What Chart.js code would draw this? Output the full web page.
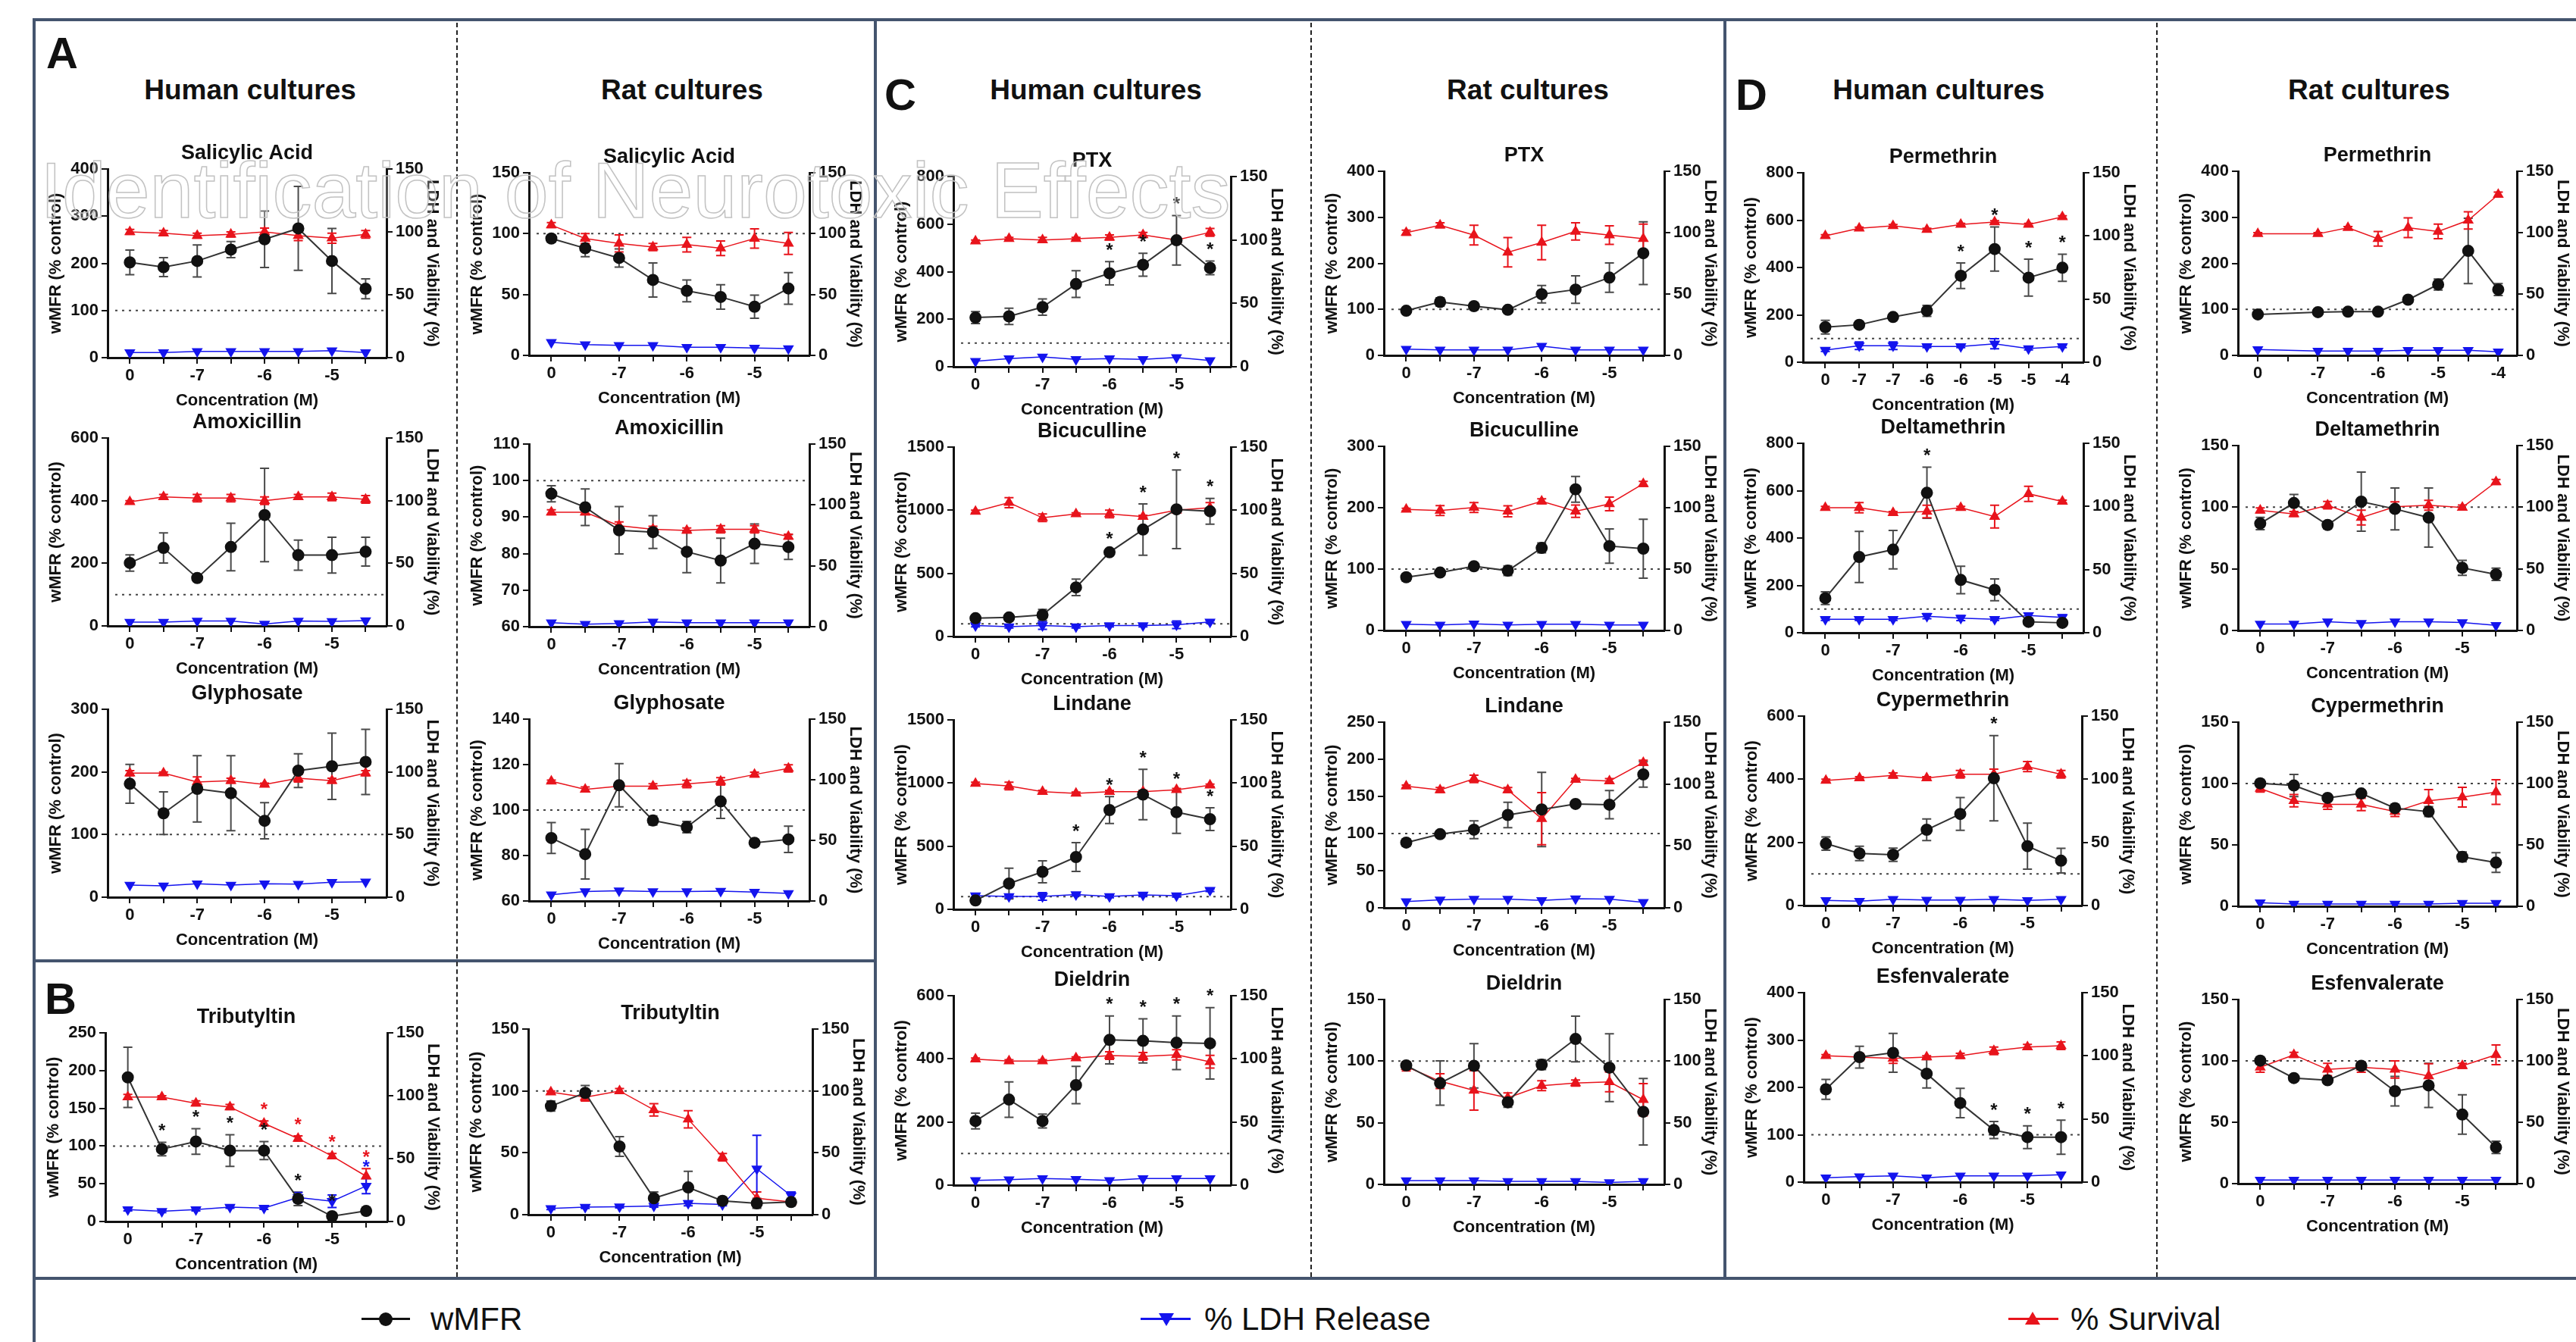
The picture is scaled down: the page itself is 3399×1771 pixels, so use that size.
<!DOCTYPE html>
<html>
<head>
<meta charset="utf-8">
<script src="https://cdn.jsdelivr.net/npm/chart.js@4.4.1/dist/chart.umd.min.js"></script>
<style>
  body { margin: 0; background: #fff; }
  #page { position: relative; width: 3399px; height: 1771px; overflow: hidden; background: #fff;
          font-family: "Liberation Sans", Arial, sans-serif; color: #111; }
  .frame { position: absolute; background: #44546e; }
  .dash { position: absolute; width: 0; border-left: 2px dashed #222; }
  .hdr { position: absolute; font-weight: bold; font-size: 37px; transform: translate(-50%, -50%); white-space: nowrap; }
  .letter { position: absolute; font-weight: bold; font-size: 58px; transform: translate(-50%, -50%); }
  canvas { position: absolute; }
  .wm { position: absolute; left: 53px; top: 199px; font-size: 104px; line-height: 1; white-space: nowrap;
        color: rgba(255,255,255,0.25); -webkit-text-stroke: 1.5px #c2c2c2; z-index: 5; pointer-events: none; }
  .legtxt { position: absolute; top: 1741px; font-size: 42px; transform: translateY(-50%); white-space: nowrap; }
  .legline { position: absolute; height: 3px; }
</style>
</head>
<body>
<div id="page">
  <div class="frame" style="left:43px; top:24px; width:3356px; height:4px"></div>
  <div class="frame" style="left:43px; top:24px; width:4px; height:1747px"></div>
  <div class="frame" style="left:1153px; top:24px; width:4px; height:1665px"></div>
  <div class="frame" style="left:2274px; top:24px; width:4px; height:1665px"></div>
  <div class="frame" style="left:43px; top:1266px; width:1112px; height:4px"></div>
  <div class="frame" style="left:43px; top:1685px; width:3356px; height:4px"></div>

  <div class="dash" style="left:602px; top:30px; height:1655px"></div>
  <div class="dash" style="left:1729px; top:30px; height:1655px"></div>
  <div class="dash" style="left:2845px; top:30px; height:1655px"></div>

  <div class="letter" style="left:82px; top:69px">A</div>
  <div class="letter" style="left:80px; top:1317px">B</div>
  <div class="letter" style="left:1188px; top:124px">C</div>
  <div class="letter" style="left:2311px; top:124px">D</div>
  <div class="hdr" style="left:330px; top:119px">Human cultures</div>
  <div class="hdr" style="left:900px; top:119px">Rat cultures</div>
  <div class="hdr" style="left:1446px; top:119px">Human cultures</div>
  <div class="hdr" style="left:2016px; top:119px">Rat cultures</div>
  <div class="hdr" style="left:2558px; top:119px">Human cultures</div>
  <div class="hdr" style="left:3126px; top:119px">Rat cultures</div>

  <div class="wm">Identification of Neurotoxic Effects</div>

  <div class="legline" style="left:477px; top:1739px; width:64px; background:#111"></div>
  <div style="position:absolute; left:500px; top:1732px; width:18px; height:18px; border-radius:50%; background:#111"></div>
  <div class="legtxt" style="left:568px">wMFR</div>
  <div class="legline" style="left:1505px; top:1739px; width:66px; background:#1414ee"></div>
  <div style="position:absolute; left:1529px; top:1733px; width:0; height:0; border-left:10px solid transparent; border-right:10px solid transparent; border-top:17px solid #1414ee"></div>
  <div class="legtxt" style="left:1589px">% LDH Release</div>
  <div class="legline" style="left:2650px; top:1739px; width:66px; background:#e8141c"></div>
  <div style="position:absolute; left:2672px; top:1731px; width:0; height:0; border-left:10px solid transparent; border-right:10px solid transparent; border-bottom:17px solid #e8141c"></div>
  <div class="legtxt" style="left:2732px">% Survival</div>
</div>

<script>
// concentration tick labels (log M)
const conc8 = ['0', '', '-7', '', '-6', '', '-5', ''];
const concPerHum = ['0', '-7', '-7', '-6', '-6', '-5', '-5', '-4'];
const concPerRat = ['0', '', '-7', '', '-6', '', '-5', '', '-4'];

// ---- A: human ----
const hSalMfr = [202, 192, 205, 229, 251, 274, 205, 146];
const hSalMfrErr = [26, 20, 34, 17, 60, 89, 69, 21];
const hSalSurv = [100, 99, 97, 98, 100, 97, 95, 98];
const hSalSurvErr = [2, 2, 2, 2, 3, 4, 4, 3];
const hSalLdh = [4, 4, 5, 5, 5, 5, 5.5, 4];

const hAmxMfr = [201, 249, 153, 252, 354, 226, 226, 237];
const hAmxMfrErr = [26, 48, 6, 76, 149, 48, 57, 46];
const hAmxSurv = [99, 103, 102, 102, 100, 103, 103, 101];
const hAmxSurvErr = [1, 2, 3, 3, 3, 2, 3, 3];
const hAmxLdh = [3, 3, 4, 4, 1.5, 4, 3.6, 4.2];

const hGlyMfr = [181, 134, 173, 166, 122, 202, 209, 216];
const hGlyMfrErr = [31, 34, 53, 60, 29, 27, 53, 52];
const hGlySurv = [99, 99, 92, 93, 90, 95, 93, 99];
const hGlySurvErr = [2, 1, 4, 2, 1, 3, 2, 2];
const hGlyLdh = [9.7, 9.1, 10.8, 9.7, 10.8, 10.4, 11.9, 12.3];

// ---- A: rat ----
const rSalMfr = [96, 88, 80, 62, 53, 48, 40, 55];
const rSalMfrErr = [3, 7, 7.5, 14, 9, 10, 9.5, 13];
const rSalSurv = [107, 96, 92, 89, 91, 88, 96, 92];
const rSalSurvErr = [2, 4, 7, 3, 6, 6, 8, 9];
const rSalLdh = [10.7, 8.9, 8.2, 8.2, 6.7, 6.7, 6, 5.6];

const rAmxMfr = [96.4, 92.7, 86.4, 85.9, 80.5, 78.1, 82.7, 81.8];
const rAmxMfrErr = [2.2, 5, 6.5, 4.5, 5.7, 6.1, 5.4, 3.4];
const rAmxSurv = [94, 94, 83, 80, 79, 80, 80, 74];
const rAmxSurvErr = [2, 2, 3, 2.5, 2, 3, 3, 2];
const rAmxLdh = [3.2, 2.1, 2.6, 3.9, 3.2, 3.2, 3.2, 3.2];

const rGlyMfr = [87.7, 80.6, 110.9, 95.4, 92.5, 103.8, 85.6, 87.1];
const rGlyMfrErr = [6.8, 10.9, 9.5, 2, 2.5, 7.5, 1.5, 5.8];
const rGlySurv = [98.7, 92, 94.7, 94.7, 96.5, 98.7, 104.3, 109.4];
const rGlySurvErr = [1, 2, 2, 2, 3, 3, 2, 3];
const rGlyLdh = [5.1, 7.8, 8.5, 7.8, 7.8, 8.2, 7.4, 6.2];

// ---- B ----
const hTbtMfr = [191, 96, 106, 94, 94, 30, 7, 14];
const hTbtMfrErr = [40, 9, 17, 21, 12, 9, 5, 5];
const hTbtSurv = [99, 99, 94, 91, 78, 66, 52, 36];
const hTbtSurvErr = [2, 1, 2, 2, 2, 2, 2, 6];
const hTbtLdh = [9.5, 8.1, 9.5, 11.5, 10.7, 19.1, 16.1, 28.2];
const hTbtLdhErr = [1, 1, 1, 1, 1, 4, 5, 6];
const hTbtMfrStars = [1, 2, 3, 4, 5, 6];
const hTbtSurvStars = [4, 5, 6, 7];
const hTbtLdhStars = [7];

const rTbtMfr = [87.8, 98.4, 55.1, 13.3, 22, 11.2, 9.2, 10.2];
const rTbtMfrErr = [4, 6, 8, 5, 13, 3, 4, 3];
const rTbtSurv = [99, 94.9, 100, 84.7, 77.1, 46.5, 13.3, 10.2];
const rTbtSurvErr = [1, 3, 2, 5, 7, 3, 5, 2];
const rTbtLdh = [5.1, 6.1, 6.5, 7.1, 9.2, 8.2, 37.1, 15.3];
const rTbtLdhErr = [1, 1, 1, 1, 2, 1, 27, 3];

// ---- C: human ----
const hPtxMfr = [207, 212, 251, 348, 393, 429, 532, 416];
const hPtxMfrErr = [25, 34, 34, 56, 49, 48, 104, 29];
const hPtxSurv = [99, 101, 100, 101, 102, 104, 100, 106];
const hPtxSurvErr = [1, 1, 2, 1, 2, 2, 2, 3];
const hPtxLdh = [4.4, 6.4, 7.8, 5.8, 6.4, 5.8, 7.3, 4.9];
const hPtxMfrStars = [4, 5, 6, 7];

const hBicMfr = [145, 151, 171, 389, 667, 847, 1007, 992];
const hBicMfrErr = [10, 10, 44, 65, 15, 203, 311, 102];
const hBicSurv = [99, 106, 94, 97, 97, 95, 100, 102];
const hBicSurvErr = [1, 4, 3, 1, 3, 1, 2, 4];
const hBicLdh = [8.7, 7.8, 8.7, 7.8, 8.7, 8.7, 9.3, 11.6];
const hBicLdhErr = [1, 1, 3, 1, 1, 1, 3, 1];
const hBicMfrStars = [4, 5, 6, 7];

const hLinMfr = [70, 204, 297, 414, 786, 909, 769, 714];
const hLinMfrErr = [10, 121, 87, 114, 106, 200, 168, 90];
const hLinSurv = [99.6, 97.6, 93.2, 91.8, 93.2, 93.2, 94.7, 98.2];
const hLinSurvErr = [1, 3, 1, 1, 1, 1, 1, 1];
const hLinLdh = [10.8, 10.2, 10.2, 11.7, 10.2, 11.4, 10.8, 15.1];
const hLinLdhErr = [1, 1, 3, 1, 1, 1, 1, 1];
const hLinMfrStars = [3, 4, 5, 6, 7];

const hDieMfr = [203, 271, 203, 317, 460, 457, 451, 449];
const hDieMfrErr = [25, 56, 22, 59, 76, 70, 85, 113];
const hDieSurv = [99.7, 98.3, 98.3, 100.6, 102.6, 102, 103.2, 97.7];
const hDieSurvErr = [1, 1, 1, 1, 3, 3, 4, 5];
const hDieLdh = [3.8, 4.4, 5.2, 4.7, 3.8, 5.2, 5.2, 5.2];
const hDieMfrStars = [4, 5, 6, 7];

// ---- C: rat ----
const rPtxMfr = [97, 116, 107, 99, 133, 143, 169, 222];
const rPtxMfrErr = [3, 9, 8, 3, 19, 30, 32, 68];
const rPtxSurv = [100, 106, 98, 84, 92, 101, 98, 95];
const rPtxSurvErr = [2, 2, 8, 12, 14, 7, 7.5, 12];
const rPtxLdh = [5.1, 4.5, 4.5, 4.5, 7.5, 4.5, 4.5, 4.5];

const rBicMfr = [86.7, 94.4, 104.6, 97.4, 134.5, 230, 137.5, 133.3];
const rBicMfrErr = [6, 3, 3, 8, 8, 21, 28, 48];
const rBicSurv = [98.6, 97.7, 100.1, 97.1, 105.2, 97.1, 103.1, 119.5];
const rBicSurvErr = [1, 4, 4, 4.5, 2, 5, 5.5, 2];
const rBicLdh = [5.1, 4.5, 5.4, 4.5, 5.1, 5.1, 4.5, 4.5];

const rLinMfr = [87.8, 99.2, 105.2, 125, 132.4, 139.9, 138.9, 179.6];
const rLinMfrErr = [5, 4, 12, 17, 50, 3, 19, 17];
const rLinSurv = [98.2, 95.2, 104.2, 95.2, 72, 103.6, 102.4, 117.3];
const rLinSurvErr = [1, 2, 3, 2, 21, 1, 2, 2];
const rLinLdh = [5.1, 6.5, 7.1, 7.1, 6, 7.4, 7.1, 4.5];

const rDieMfr = [96.5, 82.2, 96.2, 66.6, 97.1, 118, 94.7, 58.9];
const rDieMfrErr = [3, 18, 18, 4, 4, 18.5, 27.5, 27];
const rDieSurv = [95.6, 83.7, 76.2, 70.2, 80.1, 82.2, 83.1, 68.7];
const rDieSurvErr = [3.5, 6, 16, 4, 4, 2.5, 8, 13];
const rDieLdh = [3, 3, 3, 2.4, 2.4, 2.4, 1.5, 2.4];

// ---- D: human ----
const hPerMfr = [148, 158, 191, 217, 365, 478, 357, 399];
const hPerMfrErr = [29, 14, 8, 23, 54, 93, 78, 57];
const hPerSurv = [100, 106, 108, 105, 109, 111, 109, 115];
const hPerSurvErr = [1, 1, 1, 1, 1, 1, 1, 1];
const hPerLdh = [9.6, 13.1, 13.1, 12.5, 12.5, 14.6, 10.8, 12.5];
const hPerLdhErr = [1, 3, 3, 1, 1, 4, 1, 1];
const hPerMfrStars = [4, 5, 6, 7];

const hDelMfr = [146, 320, 351, 591, 223, 181, 46, 42];
const hDelMfrErr = [27, 108, 81, 108, 58, 46, 8, 5];
const hDelSurv = [99, 99, 95, 96, 99, 92, 110, 104];
const hDelSurvErr = [1, 4, 1, 5, 1, 9, 6, 1];
const hDelLdh = [10.7, 10.7, 10.7, 13.1, 11.6, 10.7, 13.6, 12.2];
const hDelLdhErr = [1, 1, 1, 2, 2, 1, 2, 2];
const hDelMfrStars = [3];

const hCypMfr = [196, 165, 161, 240, 290, 403, 188, 142];
const hCypMfrErr = [21, 23, 21, 34, 52, 135, 73, 39];
const hCypSurv = [99, 101, 103, 101, 104, 104, 110, 104];
const hCypSurvErr = [1, 1, 2, 1, 3, 4, 4, 3];
const hCypLdh = [4.1, 3.5, 4.9, 4.4, 4.4, 4.9, 4.1, 4.9];
const hCypMfrStars = [5];

const hEsfMfr = [196, 264, 273, 229, 167, 110, 95, 95];
const hEsfMfrErr = [21, 23, 41, 30, 31, 18, 24, 36];
const hEsfSurv = [100, 99, 98, 99, 100, 104, 107, 108];
const hEsfSurvErr = [1, 3, 4, 1, 2, 3, 2, 3];
const hEsfLdh = [3.5, 4.4, 5, 3.5, 5, 5, 5, 5.8];
const hEsfMfrStars = [5, 6, 7];

// ---- D: rat ----
const rPerMfr = [89, null, 94, 95, 95, 121, 154, 227, 143];
const rPerMfrErr = [2, null, 2, 2, 2, 3, 12, 71, 13];
const rPerSurv = [99, null, 99, 104, 95, 104, 101, 110, 131];
const rPerSurvErr = [1, null, 1, 1, 6, 8, 6, 7, 2];
const rPerLdh = [4.8, null, 3.6, 3.6, 3.6, 4.2, 4.2, 4.2, 3];

const rDelMfr = [86.8, 103.4, 85.6, 104.5, 98.6, 91.6, 50.8, 45.5];
const rDelMfrErr = [5, 7, 3, 24, 17, 24, 6, 5];
const rDelSurv = [97.5, 94.5, 101.6, 91.6, 100.4, 101.6, 99.8, 120.5];
const rDelSurvErr = [2, 2, 3, 6, 4, 4, 2, 2];
const rDelLdh = [5.3, 5.3, 7.1, 5.9, 7.1, 7.1, 6.5, 4.1];

const rCypMfr = [100.2, 98.4, 88.3, 91.9, 80, 77.1, 40.3, 35.6];
const rCypMfrErr = [3, 9, 2, 2, 3, 4, 4, 8];
const rCypSurv = [96, 86, 83, 83, 77.1, 86, 88.9, 93.1];
const rCypSurvErr = [3, 5, 4, 5, 4, 9, 8, 10];
const rCypLdh = [3, 1.8, 1.8, 1.8, 1.8, 1.8, 2.4, 2.4];

const rEsfMfr = [100.2, 86, 84.2, 96, 75.3, 80, 56.3, 29.6];
const rEsfMfrErr = [3, 2, 2, 3, 12, 18, 16, 5];
const rEsfSurv = [94.8, 104.9, 93, 94.8, 93, 87.7, 96, 104.9];
const rEsfSurvErr = [4, 2, 5, 4, 7, 10, 2, 8];
const rEsfLdh = [3, 3, 3, 3, 3, 3, 3, 3];

const COLORS = {
    mfr: '#111111',
    mfrLine: '#333333',
    mfrBar: '#4a4a4a',
    surv: '#e8141c',
    ldh: '#1414ee',
    axis: '#111111'
};
const FONT = '"Liberation Sans", Arial, sans-serif';

// box = [left axis x, right axis x, plot top y, plot bottom y]
const panels = [
    { title: 'Salicylic Acid', x: conc8, min: 0, max: 400, step: 100, box: [142, 510, 223, 472],
      mfr: hSalMfr, mfrErr: hSalMfrErr, surv: hSalSurv, survErr: hSalSurvErr, ldh: hSalLdh },
    { title: 'Amoxicillin', x: conc8, min: 0, max: 600, step: 200, box: [142, 510, 578, 826],
      mfr: hAmxMfr, mfrErr: hAmxMfrErr, surv: hAmxSurv, survErr: hAmxSurvErr, ldh: hAmxLdh },
    { title: 'Glyphosate', x: conc8, min: 0, max: 300, step: 100, box: [142, 510, 936, 1184],
      mfr: hGlyMfr, mfrErr: hGlyMfrErr, surv: hGlySurv, survErr: hGlySurvErr, ldh: hGlyLdh },

    { title: 'Salicylic Acid', x: conc8, min: 0, max: 150, step: 50, box: [698, 1068, 228, 469],
      mfr: rSalMfr, mfrErr: rSalMfrErr, surv: rSalSurv, survErr: rSalSurvErr, ldh: rSalLdh },
    { title: 'Amoxicillin', x: conc8, min: 60, max: 110, step: 10, box: [698, 1068, 586, 827],
      mfr: rAmxMfr, mfrErr: rAmxMfrErr, surv: rAmxSurv, survErr: rAmxSurvErr, ldh: rAmxLdh },
    { title: 'Glyphosate', x: conc8, min: 60, max: 140, step: 20, box: [698, 1068, 949, 1189],
      mfr: rGlyMfr, mfrErr: rGlyMfrErr, surv: rGlySurv, survErr: rGlySurvErr, ldh: rGlyLdh },

    { title: 'Tributyltin', x: conc8, min: 0, max: 250, step: 50, box: [139, 511, 1363, 1612],
      mfr: hTbtMfr, mfrErr: hTbtMfrErr, surv: hTbtSurv, survErr: hTbtSurvErr, ldh: hTbtLdh, ldhErr: hTbtLdhErr,
      mfrStars: hTbtMfrStars, survStars: hTbtSurvStars, ldhStars: hTbtLdhStars },
    { title: 'Tributyltin', x: conc8, min: 0, max: 150, step: 50, box: [697, 1072, 1358, 1603],
      mfr: rTbtMfr, mfrErr: rTbtMfrErr, surv: rTbtSurv, survErr: rTbtSurvErr, ldh: rTbtLdh, ldhErr: rTbtLdhErr },

    { title: 'PTX', x: conc8, min: 0, max: 800, step: 200, box: [1258, 1624, 233, 484],
      mfr: hPtxMfr, mfrErr: hPtxMfrErr, surv: hPtxSurv, survErr: hPtxSurvErr, ldh: hPtxLdh, mfrStars: hPtxMfrStars },
    { title: 'Bicuculline', x: conc8, min: 0, max: 1500, step: 500, box: [1258, 1624, 590, 840],
      mfr: hBicMfr, mfrErr: hBicMfrErr, surv: hBicSurv, survErr: hBicSurvErr, ldh: hBicLdh, ldhErr: hBicLdhErr,
      mfrStars: hBicMfrStars },
    { title: 'Lindane', x: conc8, min: 0, max: 1500, step: 500, box: [1258, 1624, 950, 1200],
      mfr: hLinMfr, mfrErr: hLinMfrErr, surv: hLinSurv, survErr: hLinSurvErr, ldh: hLinLdh, ldhErr: hLinLdhErr,
      mfrStars: hLinMfrStars },
    { title: 'Dieldrin', x: conc8, min: 0, max: 600, step: 200, box: [1258, 1624, 1314, 1564],
      mfr: hDieMfr, mfrErr: hDieMfrErr, surv: hDieSurv, survErr: hDieSurvErr, ldh: hDieLdh, mfrStars: hDieMfrStars },

    { title: 'PTX', x: conc8, min: 0, max: 400, step: 100, box: [1826, 2196, 226, 469],
      mfr: rPtxMfr, mfrErr: rPtxMfrErr, surv: rPtxSurv, survErr: rPtxSurvErr, ldh: rPtxLdh },
    { title: 'Bicuculline', x: conc8, min: 0, max: 300, step: 100, box: [1826, 2196, 589, 832],
      mfr: rBicMfr, mfrErr: rBicMfrErr, surv: rBicSurv, survErr: rBicSurvErr, ldh: rBicLdh },
    { title: 'Lindane', x: conc8, min: 0, max: 250, step: 50, box: [1826, 2196, 953, 1198],
      mfr: rLinMfr, mfrErr: rLinMfrErr, surv: rLinSurv, survErr: rLinSurvErr, ldh: rLinLdh },
    { title: 'Dieldrin', x: conc8, min: 0, max: 150, step: 50, box: [1826, 2196, 1319, 1563],
      mfr: rDieMfr, mfrErr: rDieMfrErr, surv: rDieSurv, survErr: rDieSurvErr, ldh: rDieLdh },

    { title: 'Permethrin', x: concPerHum, min: 0, max: 800, step: 200, box: [2379, 2749, 228, 478],
      mfr: hPerMfr, mfrErr: hPerMfrErr, surv: hPerSurv, survErr: hPerSurvErr, ldh: hPerLdh, ldhErr: hPerLdhErr,
      mfrStars: hPerMfrStars },
    { title: 'Deltamethrin', x: conc8, min: 0, max: 800, step: 200, box: [2379, 2749, 585, 835],
      mfr: hDelMfr, mfrErr: hDelMfrErr, surv: hDelSurv, survErr: hDelSurvErr, ldh: hDelLdh, ldhErr: hDelLdhErr,
      mfrStars: hDelMfrStars },
    { title: 'Cypermethrin', x: conc8, min: 0, max: 600, step: 200, box: [2380, 2747, 945, 1195],
      mfr: hCypMfr, mfrErr: hCypMfrErr, surv: hCypSurv, survErr: hCypSurvErr, ldh: hCypLdh, mfrStars: hCypMfrStars },
    { title: 'Esfenvalerate', x: conc8, min: 0, max: 400, step: 100, box: [2380, 2747, 1310, 1560],
      mfr: hEsfMfr, mfrErr: hEsfMfrErr, surv: hEsfSurv, survErr: hEsfSurvErr, ldh: hEsfLdh, mfrStars: hEsfMfrStars },

    { title: 'Permethrin', x: concPerRat, min: 0, max: 400, step: 100, box: [2953, 3321, 226, 469],
      mfr: rPerMfr, mfrErr: rPerMfrErr, surv: rPerSurv, survErr: rPerSurvErr, ldh: rPerLdh },
    { title: 'Deltamethrin', x: conc8, min: 0, max: 150, step: 50, box: [2953, 3321, 588, 832],
      mfr: rDelMfr, mfrErr: rDelMfrErr, surv: rDelSurv, survErr: rDelSurvErr, ldh: rDelLdh },
    { title: 'Cypermethrin', x: conc8, min: 0, max: 150, step: 50, box: [2953, 3321, 953, 1196],
      mfr: rCypMfr, mfrErr: rCypMfrErr, surv: rCypSurv, survErr: rCypSurvErr, ldh: rCypLdh },
    { title: 'Esfenvalerate', x: conc8, min: 0, max: 150, step: 50, box: [2953, 3321, 1319, 1562],
      mfr: rEsfMfr, mfrErr: rEsfMfrErr, surv: rEsfSurv, survErr: rEsfSurvErr, ldh: rEsfLdh }
];

// error bars, 100% reference line, stars and panel title
const figExtras = {
    id: 'figExtras',
    beforeDatasetsDraw(chart) {
        const ctx = chart.ctx;
        const area = chart.chartArea;
        const yRef = chart.scales.y.getPixelForValue(100);
        ctx.save();
        ctx.setLineDash([3, 6]);
        ctx.lineWidth = 2;
        ctx.strokeStyle = '#444';
        ctx.beginPath();
        ctx.moveTo(area.left + 10, yRef);
        ctx.lineTo(area.right - 2, yRef);
        ctx.stroke();
        ctx.restore();

        chart.data.datasets.forEach((ds, di) => {
            if (!ds.errors) return;
            const meta = chart.getDatasetMeta(di);
            const scale = chart.scales[ds.yAxisID];
            ctx.save();
            ctx.strokeStyle = ds.barColor;
            ctx.lineWidth = 2;
            meta.data.forEach((pt, i) => {
                const v = ds.data[i].y;
                const e = ds.errors[i];
                if (v == null || !e) return;
                const y1 = scale.getPixelForValue(v + e);
                const y2 = scale.getPixelForValue(v - e);
                ctx.beginPath();
                ctx.moveTo(pt.x, y1); ctx.lineTo(pt.x, y2);
                ctx.moveTo(pt.x - 6, y1); ctx.lineTo(pt.x + 6, y1);
                ctx.moveTo(pt.x - 6, y2); ctx.lineTo(pt.x + 6, y2);
                ctx.stroke();
            });
            ctx.restore();
        });
    },
    afterDatasetsDraw(chart, args, opts) {
        const ctx = chart.ctx;
        const area = chart.chartArea;
        ctx.save();
        ctx.textAlign = 'center';
        ctx.textBaseline = 'middle';
        chart.data.datasets.forEach((ds, di) => {
            if (!ds.stars) return;
            const meta = chart.getDatasetMeta(di);
            const scale = chart.scales[ds.yAxisID];
            ctx.fillStyle = ds.starColor;
            ctx.font = 'bold 24px ' + FONT;
            ds.stars.forEach(i => {
                const v = ds.data[i].y + ((ds.errors && ds.errors[i]) || 0);
                ctx.fillText('*', meta.data[i].x, scale.getPixelForValue(v) - 14);
            });
        });
        ctx.fillStyle = '#111';
        ctx.font = 'bold 27px ' + FONT;
        ctx.fillText(opts.title, (area.left + area.right) / 2, area.top - 20);
        ctx.restore();
    }
};

Chart.defaults.font.family = FONT;
Chart.defaults.color = '#111';

const page = document.getElementById('page');

function makeChart(p) {
    const [axL, axR, top, bot] = p.box;
    const padL = 88, padR = 80, padT = 48, padB = 74;
    const w = axR - axL + padL + padR;
    const h = bot - top + padT + padB;

    const canvas = document.createElement('canvas');
    canvas.width = w;
    canvas.height = h;
    canvas.style.left = (axL - padL) + 'px';
    canvas.style.top = (top - padT) + 'px';
    canvas.style.width = w + 'px';
    canvas.style.height = h + 'px';
    page.appendChild(canvas);

    const pts = arr => arr.map((v, i) => ({ x: i, y: v }));
    const tickFont = { size: 22, weight: 'bold' };
    const titleFont = { size: 22, weight: 'bold' };
    const grid = { drawOnChartArea: false, drawTicks: true, tickLength: 8, color: COLORS.axis, lineWidth: 2 };
    const border = { display: true, color: COLORS.axis, width: 3 };
    const plain = v => String(v);

    new Chart(canvas, {
        type: 'line',
        data: {
            datasets: [
                {
                    label: 'wMFR', data: pts(p.mfr), errors: p.mfrErr, stars: p.mfrStars,
                    yAxisID: 'y', borderColor: COLORS.mfrLine, backgroundColor: COLORS.mfr,
                    pointBackgroundColor: COLORS.mfr, pointBorderColor: COLORS.mfr,
                    pointStyle: 'circle', pointRadius: 7, borderWidth: 2,
                    barColor: COLORS.mfrBar, starColor: COLORS.mfr, spanGaps: true
                },
                {
                    label: '% Survival', data: pts(p.surv), errors: p.survErr, stars: p.survStars,
                    yAxisID: 'y2', borderColor: COLORS.surv, backgroundColor: COLORS.surv,
                    pointStyle: 'triangle', pointRadius: 7, borderWidth: 1.5,
                    barColor: COLORS.surv, starColor: COLORS.surv, spanGaps: true
                },
                {
                    label: '% LDH Release', data: pts(p.ldh), errors: p.ldhErr, stars: p.ldhStars,
                    yAxisID: 'y2', borderColor: COLORS.ldh, backgroundColor: COLORS.ldh,
                    pointStyle: 'triangle', pointRotation: 180, pointRadius: 7, borderWidth: 1.5,
                    barColor: COLORS.ldh, starColor: COLORS.ldh, spanGaps: true
                }
            ]
        },
        options: {
            responsive: false,
            animation: false,
            devicePixelRatio: 1,
            layout: { padding: { top: padT, left: 0, right: 0, bottom: 0 } },
            plugins: {
                legend: { display: false },
                tooltip: { enabled: false },
                figExtras: { title: p.title }
            },
            scales: {
                x: {
                    type: 'linear',
                    min: -0.66,
                    max: p.x.length - 1 + 0.62,
                    afterBuildTicks: s => { s.ticks = p.x.map((_, i) => ({ value: i })); },
                    afterFit: s => { s.height = padB; },
                    ticks: {
                        autoSkip: false, maxRotation: 0, padding: 3, font: tickFont,
                        callback: v => p.x[v]
                    },
                    grid: grid,
                    border: border,
                    title: { display: true, text: 'Concentration (M)', font: titleFont, padding: { top: 0, bottom: 4 } }
                },
                y: {
                    position: 'left',
                    min: p.min, max: p.max,
                    afterFit: s => { s.width = padL; },
                    ticks: { stepSize: p.step, padding: 4, font: tickFont, callback: plain },
                    grid: grid,
                    border: border,
                    title: { display: true, text: 'wMFR (% control)', font: titleFont, padding: { top: 7, bottom: 0 } }
                },
                y2: {
                    position: 'right',
                    min: 0, max: 150,
                    afterFit: s => { s.width = padR; },
                    ticks: { stepSize: 50, padding: 4, font: tickFont, callback: plain },
                    grid: grid,
                    border: border,
                    title: { display: true, text: 'LDH and Viability (%)', font: titleFont, padding: { top: 7, bottom: 0 } }
                }
            }
        },
        plugins: [figExtras]
    });
}

panels.forEach(makeChart);
</script>
</body>
</html>
